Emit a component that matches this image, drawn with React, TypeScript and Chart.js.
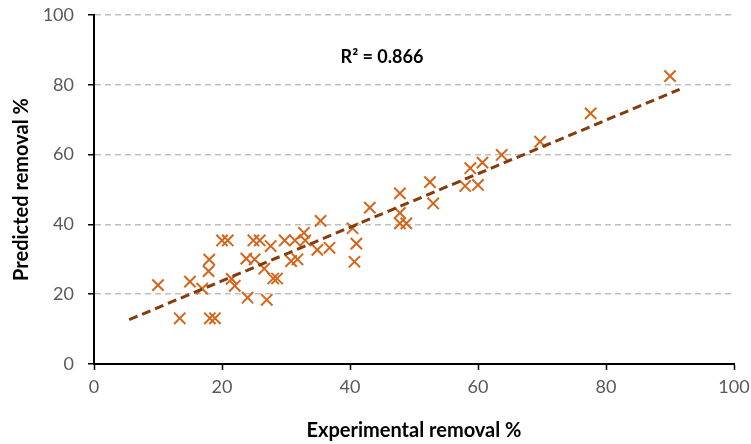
import React, { useEffect, useRef } from "react";
import { Chart, registerables } from "chart.js";

Chart.register(...registerables);

// Experimental removal % (x) and predicted removal % (y)
const experimental = [
  10.0, 13.4, 15.0, 16.9, 17.9, 18.0, 18.1, 18.9, 20.0, 20.9,
  21.5, 22.0, 23.8, 24.0, 24.9, 25.9, 25.1, 26.6, 27.0, 27.6,
  28.0, 28.6, 29.8, 30.8, 31.8, 31.4, 33.0, 32.8, 34.9, 36.8,
  35.4, 40.4, 41.0, 40.7, 43.1, 47.8, 47.8, 47.8, 48.8, 52.5,
  53.0, 58.0, 60.0, 58.8, 60.7, 63.7, 69.7, 77.6, 90.0,
];
const predicted = [
  22.6, 13.1, 23.6, 21.6, 26.6, 29.9, 13.1, 13.1, 35.4, 35.4,
  24.4, 22.4, 30.2, 19.0, 35.4, 35.4, 30.0, 27.3, 18.4, 33.8,
  24.5, 24.5, 35.4, 29.5, 30.0, 35.4, 35.4, 37.6, 32.7, 33.3,
  41.0, 38.9, 34.5, 29.3, 44.8, 48.9, 43.3, 40.3, 40.3, 52.1,
  46.0, 51.0, 51.3, 56.1, 57.7, 59.9, 63.7, 71.8, 82.5,
];

// Linear trendline
const trendX = [5.5, 91.5];
const trendY = [12.7, 78.7];

const xTicks = [0, 20, 40, 60, 80, 100];
const yTicks = [0, 20, 40, 60, 80, 100];

const r2Label = "R² = 0.866";
const r2Pos = { x: 45, y: 88 };

const FONT = "Lato, 'Open Sans', sans-serif";

export default function App() {
  const ref = useRef<HTMLCanvasElement | null>(null);

  useEffect(() => {
    const canvas = ref.current;
    if (!canvas) return;

    const r2Plugin = {
      id: "r2label",
      afterDatasetsDraw(chart: any) {
        const { ctx, scales } = chart;
        const px = scales.x.getPixelForValue(r2Pos.x);
        const py = scales.y.getPixelForValue(r2Pos.y);
        ctx.save();
        ctx.font = `bold 18px ${FONT}`;
        ctx.fillStyle = "#000000";
        ctx.textAlign = "center";
        ctx.textBaseline = "middle";
        ctx.fillText(r2Label, px, py);
        ctx.restore();
      },
    };

    const chart = new Chart(canvas, {
      type: "scatter",
      data: {
        datasets: [
          {
            label: "Predicted",
            data: experimental.map((x, i) => ({ x, y: predicted[i] })),
            pointStyle: "crossRot",
            pointRadius: 8,
            pointHoverRadius: 8,
            borderColor: "#D4661C",
            backgroundColor: "#D4661C",
            borderWidth: 2,
            showLine: false,
            order: 1,
          },
          {
            type: "line",
            label: "Trend",
            data: trendX.map((x, i) => ({ x, y: trendY[i] })),
            borderColor: "#843C0C",
            borderWidth: 3,
            borderDash: [9, 5],
            pointRadius: 0,
            fill: false,
            order: 0,
          } as any,
        ],
      },
      options: {
        animation: false,
        responsive: false,
        devicePixelRatio: 1,
        layout: { padding: { top: 15, right: 17, bottom: 0, left: 0 } },
        plugins: {
          legend: { display: false },
          tooltip: { enabled: false },
        },
        scales: {
          x: {
            type: "linear",
            min: 0,
            max: 100,
            afterBuildTicks: (s: any) => {
              s.ticks = xTicks.map((v) => ({ value: v }));
            },
            afterFit: (s: any) => {
              s.height = 80;
              s.paddingLeft = 0;
              s.paddingRight = 0;
            },
            ticks: {
              color: "#595959",
              font: { family: FONT, size: 18 },
              padding: 6,
              maxRotation: 0,
            },
            grid: {
              drawOnChartArea: false,
              drawTicks: true,
              tickLength: 6,
              tickColor: "#000000",
              tickWidth: 1.5,
            },
            border: { display: true, color: "#000000", width: 2 },
            title: {
              display: true,
              text: "Experimental removal %",
              color: "#000000",
              font: { family: FONT, size: 20, weight: "bold" },
              padding: { top: 0, bottom: 1 },
            },
          },
          y: {
            type: "linear",
            min: 0,
            max: 100,
            afterBuildTicks: (s: any) => {
              s.ticks = yTicks.map((v) => ({ value: v }));
            },
            afterFit: (s: any) => {
              s.width = 94;
              s.paddingTop = 0;
              s.paddingBottom = 0;
            },
            ticks: {
              color: "#595959",
              font: { family: FONT, size: 18 },
              padding: 14,
            },
            grid: {
              color: (ctx: any) => (ctx.tick && ctx.tick.value === 0 ? "rgba(0,0,0,0)" : "#BFBFBF"),
              lineWidth: 1.5,
              drawTicks: true,
              tickLength: 6,
              tickColor: "#000000",
              tickWidth: 1.5,
            },
            border: { display: true, color: "#000000", width: 2, dash: [6, 4] },
            title: {
              display: true,
              text: "Predicted removal %",
              color: "#000000",
              font: { family: FONT, size: 20, weight: "bold" },
              padding: { top: 10, bottom: 0 },
            },
          },
        },
      },
      plugins: [r2Plugin],
    });

    return () => chart.destroy();
  }, []);

  return (
    <div style={{ position: "fixed", left: 0, top: 0, width: 751, height: 444, background: "#ffffff" }}>
      <canvas ref={ref} width={751} height={444} style={{ display: "block", width: 751, height: 444 }} />
    </div>
  );
}
